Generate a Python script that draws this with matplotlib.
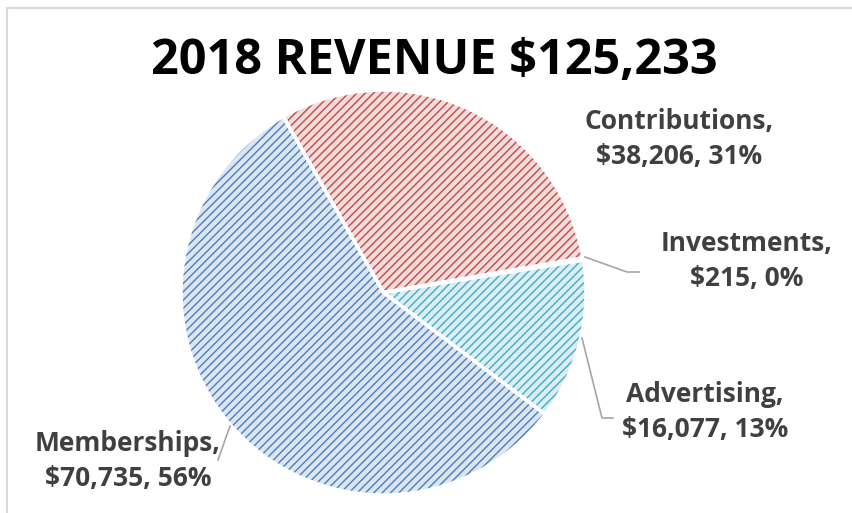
import matplotlib
matplotlib.use("Agg")
import matplotlib.pyplot as plt
from matplotlib.patches import Rectangle

# ── data ──────────────────────────────────────────────
categories = ["Memberships", "Contributions", "Investments", "Advertising"]
values = [70735, 38206, 215, 16077]
title = "2018 REVENUE $125,233"

face_colors = ["#dce6f2", "#f2dcdb", "#daeef3", "#daeef3"]
hatch_colors = ["#4f81bd", "#c0504d", "#4bacc6", "#4bacc6"]

# label anchor points in pixels (x, y from top)
label_pos = {
    "Memberships": (128, 461),
    "Contributions": (679, 139),
    "Investments": (747, 261),
    "Advertising": (705, 412),
}
# leader lines (pixel coords, y from top)
leaders = {
    "Investments": [(585, 257), (627, 272), (639, 272)],
    "Advertising": [(582, 338), (602, 418), (613, 418)],
    "Memberships": [(230, 426), (218, 460)],
}

W, H = 852, 513
plt.rcParams["hatch.linewidth"] = 1.05
FONT = ["Open Sans", "DejaVu Sans"]

fig = plt.figure(figsize=(W / 100, H / 100), dpi=100)
ax = fig.add_axes([0, 0, 1, 1])

center = (383.5, H - 292.5)
radius = 202.5
start = 323

# hatched fill
wedges, _ = ax.pie(values, colors=face_colors, startangle=start, counterclock=False,
                   center=center, radius=radius, frame=True)
for w, hc in zip(wedges, hatch_colors):
    w.set_edgecolor(hc)
    w.set_linewidth(0)
    w.set_hatch("////")

# white separators
ax.pie(values, colors=["none"] * len(values), startangle=start, counterclock=False,
       center=center, radius=radius, frame=True,
       wedgeprops=dict(edgecolor="white", linewidth=2.5))

ax.set_xlim(0, W)
ax.set_ylim(0, H)
ax.set_aspect("equal")
ax.axis("off")

# labels
total = sum(values)
for name, val in zip(categories, values):
    x, y = label_pos[name]
    pct = round(val / total * 100)
    ax.text(x, H - y, f"{name},\n${val:,}, {pct}%", ha="center", va="center",
            fontsize=19, fontweight="bold", color="#404040", family=FONT,
            linespacing=1.42)

for name, pts in leaders.items():
    xs = [p[0] for p in pts]
    ys = [H - p[1] for p in pts]
    ax.plot(xs, ys, color="#a6a6a6", lw=1.2)

# title
ax.text(434, H - 62, title, ha="center", va="center", fontsize=35,
        fontweight="bold", color="black", family=FONT)

# chart border
fig.patches.append(Rectangle((7 / W, -0.1), 1, (H - 8) / H + 0.1,
                             transform=fig.transFigure, fill=False,
                             edgecolor="#d9d9d9", lw=1.5))

fig.savefig("out.png", dpi=100)
